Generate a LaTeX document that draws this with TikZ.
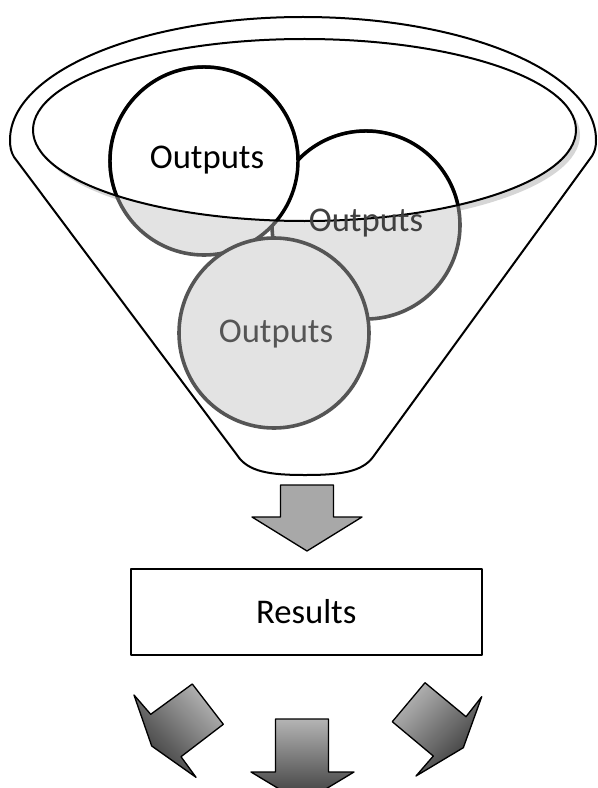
\documentclass[tikz,border=0pt]{standalone}
\usepackage{fontspec}
\setmainfont{Carlito}
\usepackage{tikz}
\usetikzlibrary{shapes,arrows}

\definecolor{ballgray}{HTML}{E3E3E3}
\definecolor{ballline}{HTML}{555555}
\definecolor{rimshade}{HTML}{D6D6D6}
\definecolor{arrowflat}{HTML}{A8A8A8}
\definecolor{arrowlight}{HTML}{B4B4B4}
\definecolor{arrowdark}{HTML}{363636}

\begin{document}
\begin{tikzpicture}[x=0.75pt,y=-0.75pt,line join=round]
\tikzstyle{funnel} = [draw, line width=1.5pt, fill=white]
\tikzstyle{ballback} = [draw=ballline, fill=ballgray, line width=2.7pt]
\tikzstyle{ballfront} = [draw=black, fill=white, line width=2.6pt]
\tikzstyle{outtext} = [font=\fontsize{26}{30}\selectfont, anchor=base, inner sep=0pt]
\tikzstyle{block} = [rectangle, draw, line width=1.5pt, fill=white, minimum width=263pt, minimum height=64.5pt, font=\fontsize{26}{30}\selectfont]
\tikzstyle{bigarrow} = [draw, line width=1pt]
\useasboundingbox (0,0) rectangle (598,788);
\clip (0,0) rectangle (598,788);
\draw[funnel] (10,140) arc[start angle=180, end angle=360, x radius=293, y radius=123]
   .. controls (596,147) and (595,151) .. (592,156) -- (373,457)
   .. controls (362,472) and (340,475) .. (305,475)
   .. controls (270,475) and (248,472) .. (237,455) -- (14,157)
   .. controls (11,152) and (10,147) .. cycle;
\fill[rimshade] (308.5,135) ellipse[x radius=271.5, y radius=91];
\fill[white] (304.5,130) ellipse[x radius=271.5, y radius=91];
\foreach \x/\y/\r in {366/225/94, 204/161/94, 274/333/95}
  \draw[ballback] (\x,\y) circle[radius=\r];
\begin{scope}
\clip (304.5,130) ellipse[x radius=271.5, y radius=91];
\foreach \x/\y/\r in {366/225/94, 204/161/94, 274/333/95}
  \draw[ballfront] (\x,\y) circle[radius=\r];
\end{scope}
\draw[line width=1.5pt] (304.5,130) ellipse[x radius=271.5, y radius=91];
\node[outtext] (outA) at (207,168) {Outputs};
\node[outtext, text=black!75] (outB) at (366,231) {Outputs};
\node[outtext, text=ballline] (outC) at (276,342) {Outputs};
\draw[bigarrow, fill=arrowflat] (280.5,485) -- (333.5,485) -- (333.5,517) -- (362,517)
   -- (307,551) -- (252,517) -- (280.5,517) -- cycle;
\node[block] (results) at (306.2,612) {Results};
\draw[bigarrow, top color=arrowlight, bottom color=arrowdark, shading angle=-45]
   (192.3,684) -- (223.3,724.3) -- (181,756.7) -- (196,777.3) -- (151.7,746)
   -- (134,695) -- (150.7,714.3) -- cycle;
\draw[bigarrow, top color=arrowlight, bottom color=arrowdark]
   (275.5,719) -- (328.5,719) -- (328.5,772) -- (354,772) -- (302.5,803)
   -- (251,772) -- (275.5,772) -- cycle;
\draw[bigarrow, top color=arrowlight, bottom color=arrowdark, shading angle=45]
   (425,682.7) -- (466,716.7) -- (481.7,696.7) -- (463.3,747.7) -- (416,776)
   -- (433.3,756) -- (392.3,721.7) -- cycle;
\end{tikzpicture}
\end{document}
